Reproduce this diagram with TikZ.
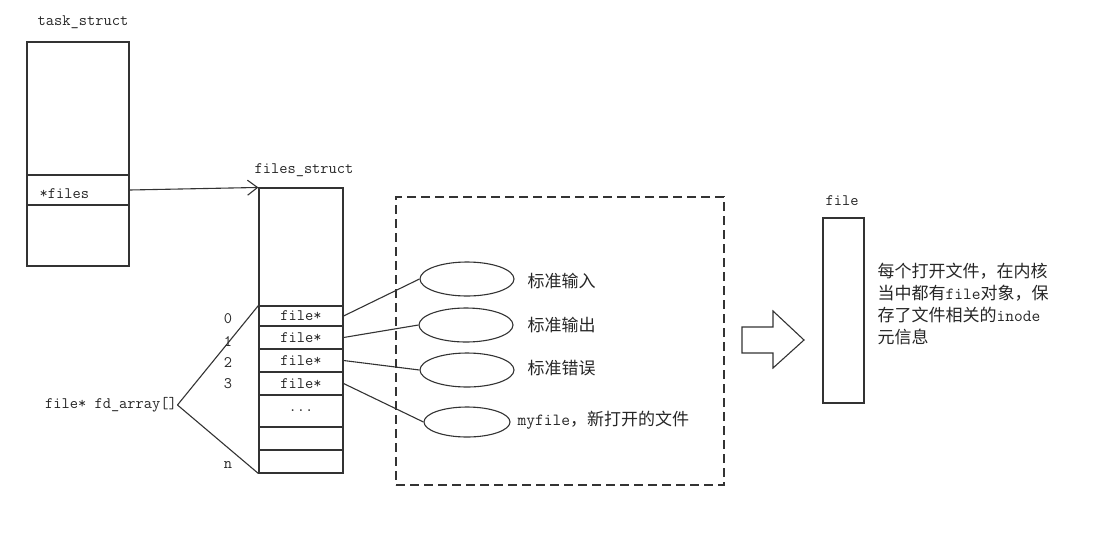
\documentclass[tikz,border=0pt]{standalone}
\usepackage{fontspec}
\newfontfamily\cjk{Noto Sans CJK SC}
\usetikzlibrary{arrows.meta,shapes}

\begin{document}
\begin{tikzpicture}[x=1pt,y=-1pt,line width=1.1pt,draw=black!80,
  every node/.style={text=black!85},
  tt/.style={font=\ttfamily\fontsize{16}{18}\selectfont,inner sep=0pt},
  zh/.style={font=\cjk\fontsize{17}{22}\selectfont,inner sep=0pt},
  cell/.style={draw,minimum width=84pt,inner sep=0pt,font=\ttfamily\fontsize{16}{18}\selectfont},
  fd/.style={draw,ellipse,minimum width=94pt,minimum height=34pt,inner sep=0pt}]
\useasboundingbox (0,0) rectangle (1110,547);

% task_struct
\node[tt] (tasklbl) at (83,22) {task\_struct};
\node[draw,minimum width=102pt,minimum height=224pt] (task) at (78,154) {};
\node[draw,minimum width=102pt,minimum height=30pt] (files) at (78,190) {};
\node[tt,anchor=west] (fileslbl) at (39,194) {*files};

% files_struct
\node[tt] (fslbl) at (304,170) {files\_struct};
\node[draw,minimum width=84pt,minimum height=285pt] (fs) at (301,330.5) {};
\node[cell,minimum height=20pt] (c0) at (301,316) {file*};
\node[cell,minimum height=23pt] (c1) at (301,337.5) {file*};
\node[cell,minimum height=23pt] (c2) at (301,360.5) {file*};
\node[cell,minimum height=23pt] (c3) at (301,383.5) {file*};
\node[cell,minimum height=32pt] (c4) at (301,411) {...};
\node[cell,minimum height=23pt] (c5) at (301,438.5) {};
\node[cell,minimum height=23pt] (cn) at (301,461.5) {};
\draw[-{Straight Barb[length=10pt,width=15pt]}] (files.east) -- (fs.north west);

% index
\node[tt] (i0) at (228,319) {0};
\node[tt] (i1) at (228,342) {1};
\node[tt] (i2) at (228,363) {2};
\node[tt] (i3) at (228,384) {3};
\node[tt] (in) at (228,465) {n};
\node[tt] (fdarr) at (111,405) {file* fd\_array[]};
\draw (fdarr.east) -- (c0.north west);
\draw (fdarr.east) -- (cn.south west);

% opened files
\node[draw,dash pattern=on 9pt off 5pt,minimum width=328pt,minimum height=288pt] (group) at (560,341) {};
\node[fd] (stdin) at (467,279) {};
\node[fd] (stdout) at (466,325) {};
\node[fd] (stderr) at (467,370) {};
\node[fd,minimum width=86pt,minimum height=30pt] (myfile) at (467,422) {};
\node[zh,anchor=west] (stdinlbl) at (527,281) {标准输入};
\node[zh,anchor=west] (stdoutlbl) at (527,325) {标准输出};
\node[zh,anchor=west] (stderrlbl) at (527,368) {标准错误};
\node[zh,anchor=west] (myfilelbl) at (517,420) {{\ttfamily myfile}，新打开的文件};
\draw (c0.east) -- (stdin.west);
\draw (c1.east) -- (stdout.west);
\draw (c2.east) -- (stderr.west);
\draw (c3.east) -- (myfile.west);

% file
\draw (742,327) -- (773,327) -- (773,311) -- (804,340) -- (773,368) -- (773,353) -- (742,353) -- cycle;
\node[tt] (filelbl) at (842,201) {file};
\node[draw,minimum width=41pt,minimum height=185pt] (file) at (843.5,310.5) {};
\node[zh,anchor=west,align=left] (note) at (877,304) {每个打开文件，在内核\\当中都有{\ttfamily file}对象，保\\存了文件相关的{\ttfamily inode}\\元信息};
\end{tikzpicture}
\end{document}
